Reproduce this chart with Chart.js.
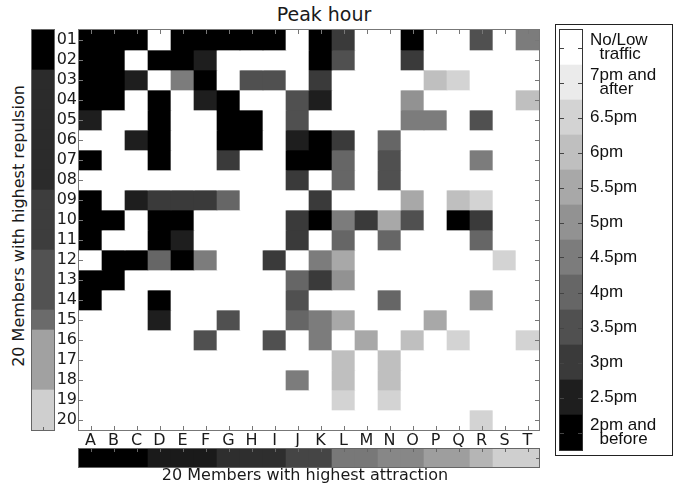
<!DOCTYPE html>
<html>
<head>
<meta charset="utf-8">
<title>Peak hour</title>
<script src="https://cdn.jsdelivr.net/npm/chart.js@4.4.1/dist/chart.umd.min.js"></script>
<style>
  body { margin: 0; background: #fff; }
  #wrap { position: relative; width: 683px; height: 489px; overflow: hidden; font-family: "DejaVu Sans", sans-serif; color: #1a1a1a; }
  canvas { position: absolute; }
  #heat { z-index: 2; }
  .txt { position: absolute; text-align: center; white-space: nowrap; }
  #title { left: 224px; top: 2px; width: 200px; font-size: 19px; line-height: 24px; }
  #xTitle { left: 0; top: 465px; width: 610px; font-size: 16px; line-height: 20px; }
  #yTitle { left: -151px; top: 216px; width: 340px; font-size: 16px; line-height: 20px; transform: rotate(-90deg); }
  #legendBox { position: absolute; left: 555px; top: 24px; width: 116px; height: 430px; border: 1px solid #222; }
</style>
</head>
<body>
<div id="wrap">
  <div id="title" class="txt">Peak hour</div>
  <div id="legendBox"></div>
  <canvas id="repStrip" width="24" height="402" style="left:31px;top:29px"></canvas>
  <canvas id="attStrip" width="462" height="20" style="left:78px;top:448px"></canvas>
  <canvas id="heat" width="497" height="430" style="left:49px;top:26px"></canvas>
  <canvas id="legend" width="112" height="428" style="left:558px;top:26px"></canvas>
  <div id="xTitle" class="txt">20 Members with highest attraction</div>
  <div id="yTitle" class="txt">20 Members with highest repulsion</div>
</div>
<script>
// members along each axis
const colLabels = ['A','B','C','D','E','F','G','H','I','J','K','L','M','N','O','P','Q','R','S','T'];
const rowLabels = ['01','02','03','04','05','06','07','08','09','10','11','12','13','14','15','16','17','18','19','20'];

// peak hour class per cell: 0 = 2pm and before ... 10 = 7pm and after, 11 = no/low traffic
const peakLevels = [
  [0,0,0,11,0,0,0,0,0,11,0,2,11,11,0,11,11,3,11,5],
  [0,0,11,0,0,1,11,11,11,11,0,3,11,11,2,11,11,11,11,11],
  [0,0,1,11,5,0,11,3,3,11,2,11,11,11,11,8,9,11,11,11],
  [0,0,11,0,11,1,0,11,11,3,1,11,11,11,6,11,11,11,11,8],
  [1,11,11,0,11,11,0,0,11,3,11,11,11,11,5,5,11,3,11,11],
  [11,11,1,0,11,11,0,0,11,1,0,2,11,4,11,11,11,11,11,11],
  [0,11,11,0,11,11,2,11,11,0,0,4,11,3,11,11,11,5,11,11],
  [11,11,11,11,11,11,11,11,11,2,11,4,11,3,11,11,11,11,11,11],
  [0,11,1,2,2,2,4,11,11,11,2,11,11,11,7,11,8,9,11,11],
  [0,0,11,0,0,11,11,11,11,2,0,5,2,7,3,11,0,2,11,11],
  [0,11,11,0,1,11,11,11,11,2,11,4,11,4,11,11,11,4,11,11],
  [11,0,0,4,0,5,11,11,2,11,5,7,11,11,11,11,11,11,9,11],
  [0,0,11,11,11,11,11,11,11,4,2,6,11,11,11,11,11,11,11,11],
  [0,11,11,0,11,11,11,11,11,3,11,11,11,4,11,11,11,6,11,11],
  [11,11,11,1,11,11,3,11,11,4,5,7,11,11,11,7,11,11,11,11],
  [11,11,11,11,11,3,11,11,3,11,5,11,7,11,8,11,9,11,11,9],
  [11,11,11,11,11,11,11,11,11,11,11,8,11,8,11,11,11,11,11,11],
  [11,11,11,11,11,11,11,11,11,5,11,8,11,8,11,11,11,11,11,11],
  [11,11,11,11,11,11,11,11,11,11,11,9,11,9,11,11,11,11,11,11],
  [11,11,11,11,11,11,11,11,11,11,11,11,11,11,11,11,11,9,11,11]
];

// member shading (0 = black, 1 = white)
const repulsionShade = [0,0,0.17,0.17,0.17,0.17,0.17,0.17,0.24,0.24,0.24,0.32,0.32,0.32,0.42,0.63,0.63,0.63,0.81,0.81];
const attractionShade = [0,0,0,0.1,0.1,0.1,0.18,0.18,0.18,0.27,0.27,0.47,0.47,0.53,0.53,0.62,0.62,0.71,0.81,0.81];

// legend classes, top to bottom (level 11 down to 0)
const legendLabels = [
  ['No/Low', '  traffic'], ['7pm and', '  after'], '6.5pm', '6pm', '5.5pm', '5pm',
  '4.5pm', '4pm', '3.5pm', '3pm', '2.5pm', ['2pm and', '  before']
];
const legendLevels = [11,10,9,8,7,6,5,4,3,2,1,0];

// gray value for each peak hour class
const levelGray = [0,30,58,80,102,124,146,168,191,211,235,255];

const gray = g => `rgb(${g},${g},${g})`;
const levelColor = lv => gray(levelGray[lv]);
const shadeColor = v => gray(Math.round(v * 255));

// frame around the plot area plus short inward ticks
const frameTicks = {
  id: 'frameTicks',
  afterDatasetsDraw(chart, args, opts) {
    const { ctx, chartArea: a } = chart;
    const len = opts.len || 4;
    ctx.save();
    ctx.strokeStyle = opts.color || '#777';
    ctx.lineWidth = 1;
    ctx.strokeRect(a.left - 0.5, a.top - 0.5, a.width + 1, a.height + 1);
    ctx.strokeStyle = opts.tickColor || opts.color || '#777';
    ctx.beginPath();
    const sides = opts.sides || [];
    const xs = chart.scales.x, ys = chart.scales.y;
    if (sides.includes('top') || sides.includes('bottom')) {
      xs.ticks.forEach((t, i) => {
        const px = Math.round(xs.getPixelForTick(i)) + 0.5;
        if (sides.includes('top')) { ctx.moveTo(px, a.top); ctx.lineTo(px, a.top + len); }
        if (sides.includes('bottom')) { ctx.moveTo(px, a.bottom); ctx.lineTo(px, a.bottom - len); }
      });
    }
    if (sides.includes('left') || sides.includes('right')) {
      ys.ticks.forEach((t, i) => {
        const py = Math.round(ys.getPixelForTick(i)) + 0.5;
        if (sides.includes('left')) { ctx.moveTo(a.left, py); ctx.lineTo(a.left + len, py); }
        if (sides.includes('right')) { ctx.moveTo(a.right, py); ctx.lineTo(a.right - len, py); }
      });
    }
    if (opts.midRight) {
      const py = Math.round((a.top + a.bottom) / 2) + 0.5;
      ctx.moveTo(a.right, py); ctx.lineTo(a.right - len, py);
    }
    if (opts.midBottom) {
      const px = Math.round((a.left + a.right) / 2) + 0.5;
      ctx.moveTo(px, a.bottom); ctx.lineTo(px, a.bottom - len);
    }
    ctx.stroke();
    ctx.restore();
  }
};
Chart.register(frameTicks);
Chart.defaults.animation = false;
Chart.defaults.responsive = false;
Chart.defaults.devicePixelRatio = 1;
Chart.defaults.plugins.legend.display = false;
Chart.defaults.plugins.tooltip.enabled = false;

const tickFont = { family: 'DejaVu Sans', size: 16 };

// keep a fixed axis size and drop the label overhang padding
const fixWidth = w => s => { s.width = w; s.paddingTop = 0; s.paddingBottom = 0; };
const fixHeight = h => s => { s.height = h; s.paddingLeft = 0; s.paddingRight = 0; };

// heat map: one floating bar per cell, spanning its row on the y scale
const cellDatasets = rowLabels.map((row, r) => ({
  label: row,
  data: colLabels.map(() => [r + 0.5, r + 1.5]),
  backgroundColor: peakLevels[r].map(levelColor),
  grouped: false,
  categoryPercentage: 1,
  barPercentage: 1,
  borderWidth: 0
}));

new Chart(document.getElementById('heat'), {
  type: 'bar',
  data: { labels: colLabels, datasets: cellDatasets },
  options: {
    layout: { padding: { top: 4, right: 7, left: 0, bottom: 9 } },
    scales: {
      x: {
        grid: { display: false, drawTicks: false },
        border: { display: false },
        ticks: { font: tickFont, color: '#1a1a1a', padding: 1, maxRotation: 0, autoSkip: false },
        afterFit: fixHeight(17)
      },
      y: {
        type: 'linear', min: 0.5, max: 20.5, reverse: true,
        grid: { display: false, drawTicks: false },
        border: { display: false },
        afterBuildTicks: s => { s.ticks = rowLabels.map((_, i) => ({ value: i + 1 })); },
        ticks: { font: tickFont, color: '#1a1a1a', padding: 2, autoSkip: false,
          callback: v => rowLabels[v - 1] },
        afterFit: fixWidth(30)
      }
    },
    plugins: { frameTicks: { color: '#777', len: 4, sides: ['top', 'bottom', 'left', 'right'] } }
  }
});

// member strip beside the rows
new Chart(document.getElementById('repStrip'), {
  type: 'bar',
  data: {
    labels: rowLabels,
    datasets: [{ data: rowLabels.map(() => 1), backgroundColor: repulsionShade.map(shadeColor),
      categoryPercentage: 1, barPercentage: 1, borderWidth: 0 }]
  },
  options: {
    indexAxis: 'y',
    layout: { padding: 1 },
    scales: { x: { display: false, min: 0, max: 1 }, y: { display: false } },
    plugins: { frameTicks: { color: '#666', len: 3, sides: [], midBottom: true } }
  }
});

// member strip below the columns
new Chart(document.getElementById('attStrip'), {
  type: 'bar',
  data: {
    labels: colLabels,
    datasets: [{ data: colLabels.map(() => 1), backgroundColor: attractionShade.map(shadeColor),
      categoryPercentage: 1, barPercentage: 1, borderWidth: 0 }]
  },
  options: {
    layout: { padding: 1 },
    scales: { x: { display: false }, y: { display: false, min: 0, max: 1 } },
    plugins: { frameTicks: { color: '#666', len: 3, sides: ['top'], midRight: true } }
  }
});

// colour key for the peak hour classes
new Chart(document.getElementById('legend'), {
  type: 'bar',
  data: {
    labels: legendLabels,
    datasets: [{ data: legendLabels.map(() => 1), backgroundColor: legendLevels.map(levelColor),
      categoryPercentage: 1, barPercentage: 1, borderWidth: 0 }]
  },
  options: {
    indexAxis: 'y',
    layout: { padding: { left: 2, top: 4, bottom: 4, right: 0 } },
    scales: {
      x: { display: false, min: 0, max: 1 },
      y: {
        position: 'right',
        grid: { display: false, drawTicks: false },
        border: { display: false },
        ticks: { font: { family: 'Liberation Sans', size: 17, lineHeight: 0.8 }, color: '#111',
          padding: 8, crossAlign: 'near', autoSkip: false },
        afterFit: fixWidth(88)
      }
    },
    plugins: { frameTicks: { color: '#333', tickColor: '#444', len: 4, sides: ['left', 'right'] } }
  }
});
</script>
</body>
</html>
